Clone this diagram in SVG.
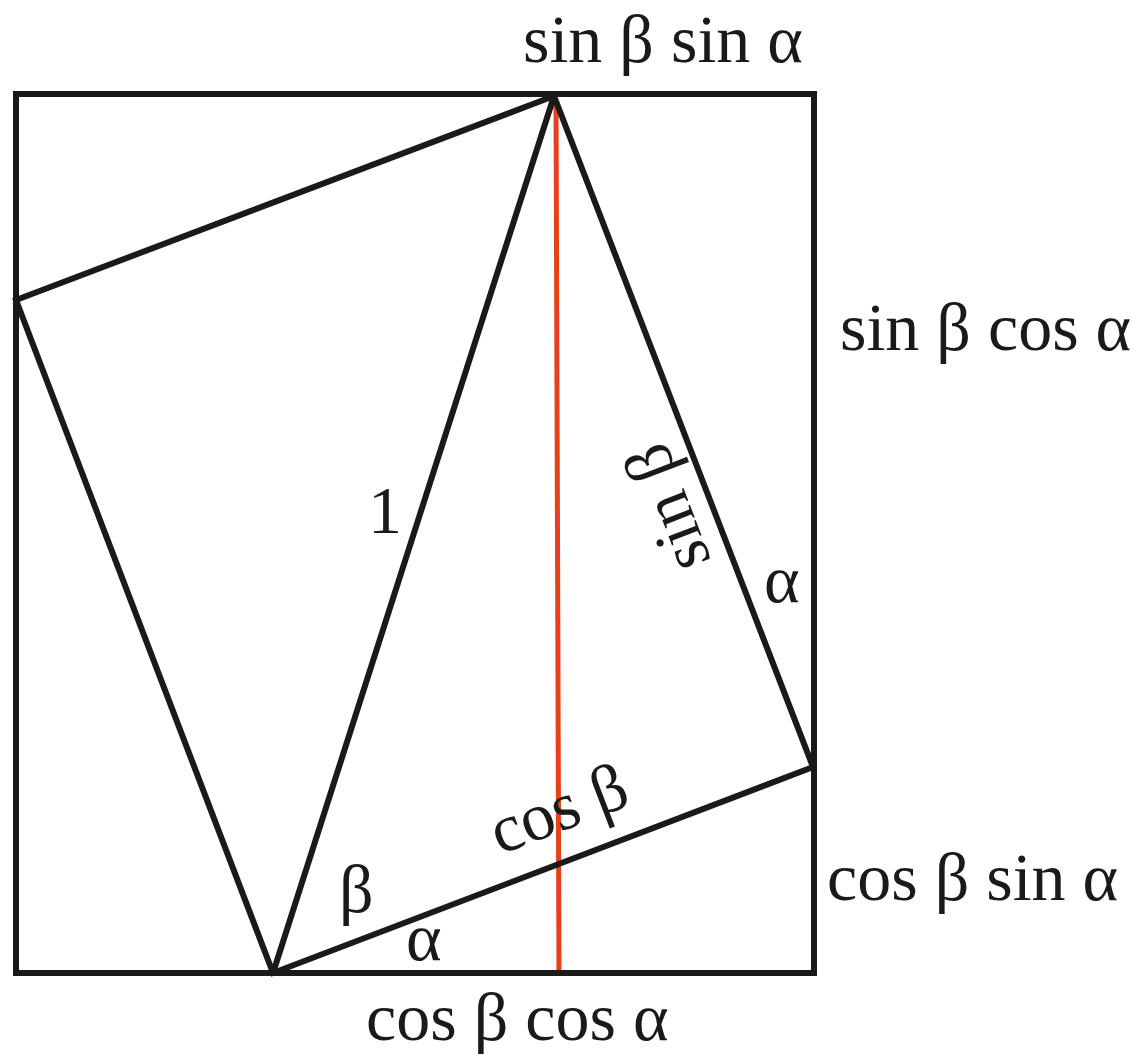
<svg xmlns="http://www.w3.org/2000/svg" width="1146" height="1063" viewBox="0 0 1146 1063">
<style>
.ln{stroke:#1c1a18;stroke-width:6;fill:none;stroke-linejoin:miter;stroke-linecap:round}
.red{stroke:#e8401a;stroke-width:5;fill:none}
.t{font-family:"Liberation Serif","Times New Roman",serif;font-size:68px;fill:#1c1a18}
</style>
<rect width="1146" height="1063" fill="#ffffff"/>
<g id="connectors">
<line id="red-line" class="red" x1="556" y1="100" x2="559" y2="975"/>
<rect id="outer-square" class="ln" x="16" y="94" width="798" height="879"/>
<polygon id="inner-quad" class="ln" points="16,300 554,96 813,767 273,973"/>
<line id="diagonal" class="ln" x1="273" y1="973" x2="554" y2="96"/>
</g>
<g id="label-top"><text class="t" x="523" y="62">sin β sin α</text></g>
<g id="label-right-upper"><text class="t" x="840" y="350">sin β cos α</text></g>
<g id="label-right-lower"><text class="t" x="827" y="900">cos β sin α</text></g>
<g id="label-bottom"><text class="t" x="366" y="1040">cos β cos α</text></g>
<g id="label-one"><text class="t" x="368" y="533">1</text></g>
<g id="label-sinb"><text class="t" text-anchor="middle" transform="translate(688,500) rotate(-111)">sin β</text></g>
<g id="label-alpha-right"><text class="t" x="764" y="602">α</text></g>
<g id="label-cosb"><text class="t" transform="translate(500,855) rotate(-21)">cos β</text></g>
<g id="label-beta"><text class="t" x="339" y="912">β</text></g>
<g id="label-alpha-bottom"><text class="t" x="406" y="960">α</text></g>
</svg>
